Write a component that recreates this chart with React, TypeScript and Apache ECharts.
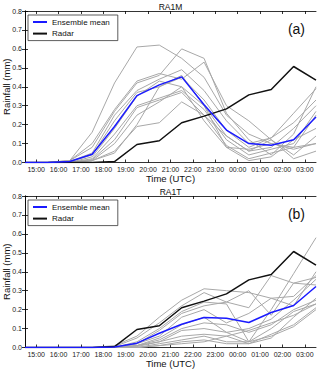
import React, { useEffect, useRef } from "react";
import * as echarts from "echarts";

// Data time stamps (half hours) and hour tick labels
const times = ["14:30", "15:30", "16:30", "17:30", "18:30", "19:30", "20:30", "21:30", "22:30", "23:30", "00:30", "01:30", "02:30", "03:30"];
const hourLabels = ["15:00", "16:00", "17:00", "18:00", "19:00", "20:00", "21:00", "22:00", "23:00", "00:00", "01:00", "02:00", "03:00"];

const radar = [0, 0, 0, 0, 0.005, 0.095, 0.115, 0.21, 0.245, 0.283, 0.357, 0.386, 0.507, 0.435];

const meanRA1M = [0, 0, 0.005, 0.044, 0.19, 0.353, 0.41, 0.452, 0.305, 0.171, 0.1, 0.091, 0.12, 0.24];
const membersRA1M = [
  [0, 0, 0.01, 0.16, 0.42, 0.61, 0.62, 0.55, 0.45, 0.25, 0.15, 0.1, 0.07, 0.1],
  [0, 0, 0.01, 0.1, 0.28, 0.43, 0.47, 0.44, 0.53, 0.3, 0.22, 0.12, 0.02, 0.06],
  [0, 0, 0.01, 0.08, 0.27, 0.42, 0.46, 0.6, 0.55, 0.26, 0.12, 0.04, 0.15, 0.4],
  [0, 0, 0.005, 0.05, 0.25, 0.38, 0.44, 0.49, 0.38, 0.22, 0.1, 0.13, 0.26, 0.39],
  [0, 0, 0.005, 0.04, 0.22, 0.37, 0.4, 0.45, 0.33, 0.17, 0.08, 0.13, 0.21, 0.33],
  [0, 0, 0, 0.03, 0.18, 0.35, 0.43, 0.4, 0.3, 0.14, 0.06, 0.08, 0.18, 0.3],
  [0, 0, 0, 0.02, 0.15, 0.3, 0.34, 0.38, 0.28, 0.12, 0.04, 0.07, 0.1, 0.27],
  [0, 0, 0, 0.015, 0.12, 0.29, 0.33, 0.37, 0.25, 0.09, 0.02, 0.05, 0.08, 0.25],
  [0, 0, 0, 0.01, 0.1, 0.25, 0.32, 0.4, 0.22, 0.08, 0.01, 0.03, 0.12, 0.18],
  [0, 0, 0, 0.01, 0.06, 0.19, 0.21, 0.32, 0.25, 0.14, 0.06, 0.12, 0.04, 0.14],
  [0, 0, 0, 0.01, 0.05, 0.2, 0.4, 0.46, 0.3, 0.08, 0.07, 0.1, 0.08, 0.1],
];

const meanRA1T = [0, 0, 0, 0, 0.003, 0.023, 0.075, 0.123, 0.158, 0.155, 0.132, 0.185, 0.222, 0.322];
const membersRA1T = [
  [0, 0, 0, 0, 0.01, 0.06, 0.16, 0.25, 0.31, 0.3, 0.29, 0.26, 0.22, 0.4],
  [0, 0, 0, 0, 0.005, 0.05, 0.13, 0.22, 0.29, 0.24, 0.3, 0.17, 0.34, 0.33],
  [0, 0, 0, 0, 0, 0.03, 0.1, 0.19, 0.24, 0.23, 0.03, 0.2, 0.39, 0.58],
  [0, 0, 0, 0, 0, 0.02, 0.09, 0.18, 0.22, 0.24, 0.21, 0.38, 0.34, 0.37],
  [0, 0, 0, 0, 0, 0.02, 0.06, 0.16, 0.2, 0.13, 0.18, 0.26, 0.27, 0.38],
  [0, 0, 0, 0, 0, 0.01, 0.05, 0.12, 0.16, 0.08, 0.1, 0.15, 0.25, 0.36],
  [0, 0, 0, 0, 0, 0.01, 0.04, 0.1, 0.13, 0.12, 0.08, 0.12, 0.2, 0.25],
  [0, 0, 0, 0, 0, 0.01, 0.03, 0.09, 0.1, 0.08, 0.03, 0.1, 0.19, 0.23],
  [0, 0, 0, 0, 0, 0.005, 0.03, 0.06, 0.07, 0.06, 0.02, 0.07, 0.12, 0.21],
  [0, 0, 0, 0, 0, 0, 0.02, 0.04, 0.06, 0.03, 0.03, 0.06, 0.11, 0.2],
  [0, 0, 0, 0, 0, 0, 0.01, 0.03, 0.04, 0.02, 0.02, 0.05, 0.16, 0.26],
  [0, 0, 0, 0, 0, 0, 0.01, 0.02, 0.03, 0.06, 0.09, 0.13, 0.17, 0.23],
];

const panels = [
  { title: "RA1M", tag: "(a)", mean: meanRA1M, members: membersRA1M },
  { title: "RA1T", tag: "(b)", mean: meanRA1T, members: membersRA1T },
];

const FONT = "Liberation Sans, Arial, sans-serif";
const GRID_LEFT = 25;
const GRID_W = 291;
const GRID_H = 151.5;
const GRID_TOPS = [11, 196];

function App() {
  const ref = useRef<HTMLDivElement>(null);
  useEffect(() => {
    if (!ref.current) return;
    const chart = echarts.init(ref.current, null, { renderer: "svg" });
    const tickPos = hourLabels.map((_, i) => i + 0.5);
    const toPts = (arr: number[]) => times.map((_, i) => [i, arr[i]]);

    const grids: any[] = [];
    const xAxes: any[] = [];
    const yAxes: any[] = [];
    const series: any[] = [];
    const legends: any[] = [];
    const graphics: any[] = [];
    const frame = { show: true, lineStyle: { color: "#000", width: 0.8 } };
    const tick = (show: boolean) => ({ show, inside: true, length: 3, customValues: tickPos, lineStyle: { color: "#000", width: 0.8 } });

    panels.forEach((p, g) => {
      const top = GRID_TOPS[g];
      grids.push({ left: GRID_LEFT, top, width: GRID_W, height: GRID_H, containLabel: false, outerBoundsMode: "none" });
      xAxes.push({
        type: "value", gridIndex: g, min: 0, max: times.length - 1, position: "bottom",
        axisLine: { ...frame, onZero: false }, splitLine: { show: false },
        axisTick: tick(true),
        axisLabel: {
          customValues: tickPos, fontSize: 7, color: "#222", margin: 3, fontFamily: FONT,
          formatter: (v: number) => hourLabels[Math.round(v - 0.5)] ?? "",
        },
        name: "Time (UTC)", nameLocation: "middle", nameGap: 10,
        nameTextStyle: { fontSize: 9.5, color: "#111", fontFamily: FONT },
      });
      xAxes.push({
        type: "value", gridIndex: g, min: 0, max: times.length - 1, position: "top",
        axisLine: { ...frame, onZero: false }, splitLine: { show: false },
        axisTick: tick(true), axisLabel: { show: false },
      });
      yAxes.push({
        type: "value", gridIndex: g, min: 0, max: 0.8, interval: 0.1, position: "left",
        axisLine: frame, splitLine: { show: false },
        axisTick: { show: true, inside: true, length: 3, lineStyle: { color: "#000", width: 0.8 } },
        axisLabel: { fontSize: 7, color: "#222", margin: 3, fontFamily: FONT, formatter: (v: number) => v.toFixed(1) },
      });
      yAxes.push({
        type: "value", gridIndex: g, min: 0, max: 0.8, interval: 0.1, position: "right",
        axisLine: frame, splitLine: { show: false },
        axisTick: { show: true, inside: true, length: 3, lineStyle: { color: "#000", width: 0.8 } },
        axisLabel: { show: false },
      });
      const xi = g * 2;
      const yi = g * 2;
      p.members.forEach((m) => {
        series.push({
          type: "line", xAxisIndex: xi, yAxisIndex: yi, data: toPts(m), showSymbol: false, symbol: "none",
          lineStyle: { color: "#a8a8a8", width: 1 }, itemStyle: { color: "#a8a8a8" }, silent: true, z: 2,
        });
      });
      series.push({
        name: "Ensemble mean", type: "line", xAxisIndex: xi, yAxisIndex: yi, data: toPts(p.mean),
        showSymbol: false, symbol: "none", lineStyle: { color: "#1a1aff", width: 1.5 }, itemStyle: { color: "#1a1aff" }, z: 4,
      });
      series.push({
        name: "Radar", type: "line", xAxisIndex: xi, yAxisIndex: yi, data: toPts(radar),
        showSymbol: false, symbol: "none", lineStyle: { color: "#111", width: 1.5 }, itemStyle: { color: "#111" }, z: 3,
      });
      legends.push({
        left: 28, top: top + 4, orient: "vertical",
        data: [{ name: "Ensemble mean", icon: "rect" }, { name: "Radar", icon: "rect" }],
        itemWidth: 14, itemHeight: 2, itemGap: 1.6, padding: [2, 8, 2, 5],
        borderColor: "#333", borderWidth: 0.8, backgroundColor: "#fff",
        textStyle: { fontSize: 8, lineHeight: 10, color: "#111", fontFamily: FONT },
        selectedMode: false,
      });
      graphics.push({
        type: "text", x: GRID_LEFT + GRID_W / 2, y: top - 4.5,
        style: { text: p.title, fontSize: 8.5, fill: "#111", fontFamily: FONT, textAlign: "center", textVerticalAlign: "middle" },
      });
      graphics.push({
        type: "text", x: 305, y: top + 17.5,
        style: { text: p.tag, fontSize: 14, fill: "#111", fontFamily: FONT, textAlign: "right", textVerticalAlign: "middle" },
      });
      graphics.push({
        type: "text", x: 6.5, y: top + GRID_H / 2, rotation: Math.PI / 2,
        style: { text: "Rainfall (mm)", fontSize: 9.5, fill: "#111", fontFamily: FONT, textAlign: "center", textVerticalAlign: "middle" },
      });
    });

    chart.setOption({
      animation: false,
      backgroundColor: "#fff",
      textStyle: { fontFamily: FONT },
      grid: grids,
      xAxis: xAxes,
      yAxis: yAxes,
      legend: legends,
      series,
      graphic: graphics,
    });
    return () => chart.dispose();
  }, []);
  return <div ref={ref} style={{ position: "absolute", left: 0, top: 0, width: 320, height: 370 }} />;
}

export default App;
